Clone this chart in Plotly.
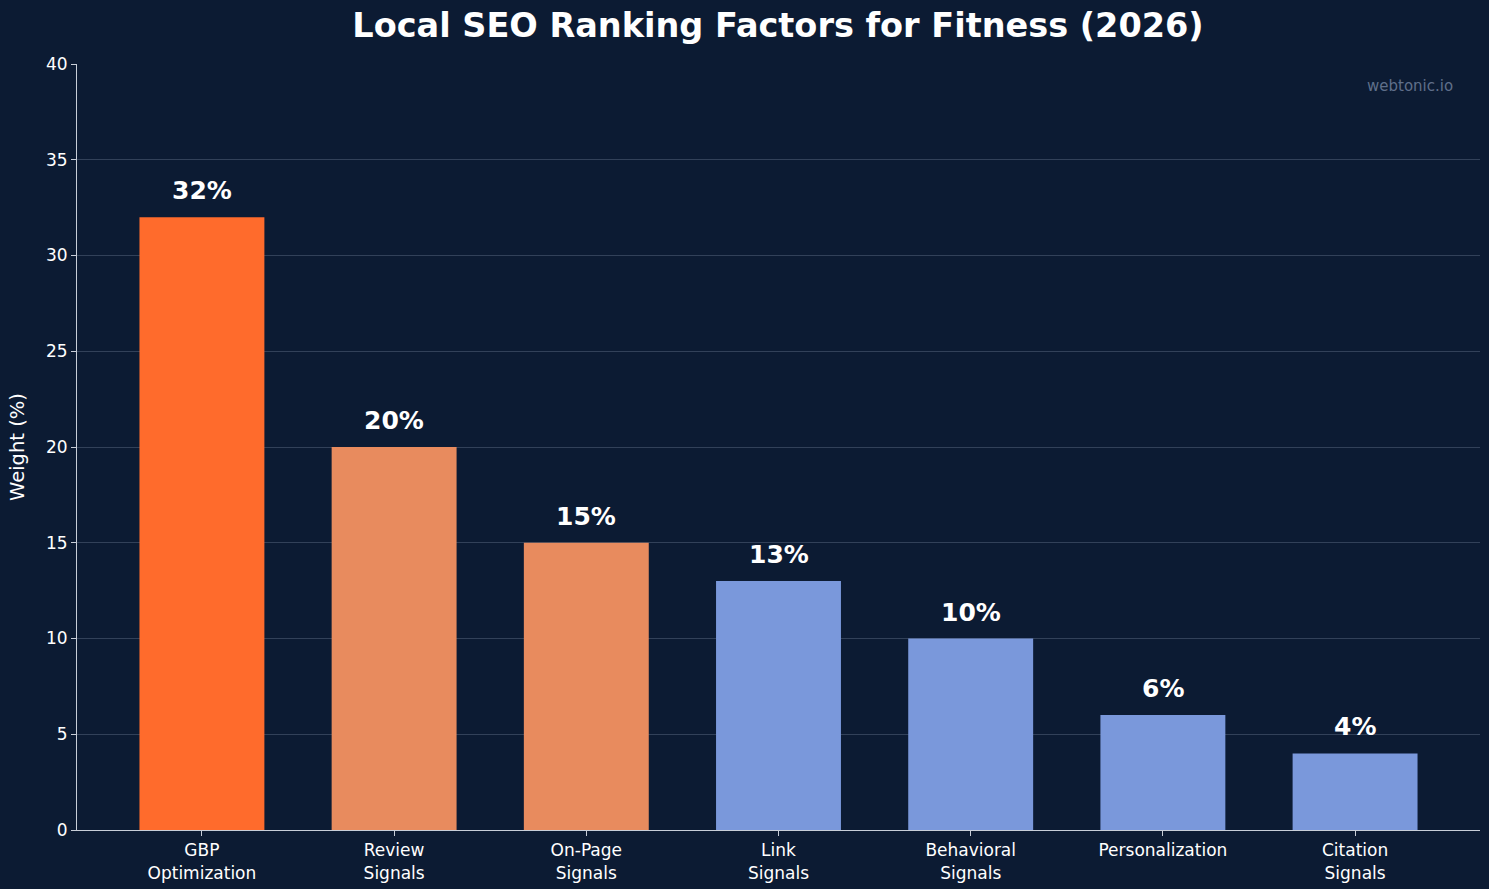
import plotly.graph_objects as go

categories = ["GBP<br>Optimization", "Review<br>Signals", "On-Page<br>Signals", "Link<br>Signals",
              "Behavioral<br>Signals", "Personalization", "Citation<br>Signals"]
values = [32, 20, 15, 13, 10, 6, 4]
colors = ["#FF6B2C", "#E88B5E", "#E88B5E", "#7A98DB", "#7A98DB", "#7A98DB", "#7A98DB"]
y_ticks = [0, 5, 10, 15, 20, 25, 30, 35, 40]

BG = "#0C1B33"
FONT = "DejaVu Sans"

x_idx = list(range(len(categories)))

fig = go.Figure()
fig.add_trace(go.Bar(x=x_idx, y=values, width=0.65, marker=dict(color=colors, line=dict(width=0)),
                     hoverinfo="skip"))

for i, v in enumerate(values):
    fig.add_annotation(x=i, y=v, text=f"<b>{v}%</b>", showarrow=False, yanchor="bottom",
                       yshift=10, font=dict(family=FONT, size=25, color="white"))

fig.add_annotation(xref="paper", yref="paper", x=0.982, y=0.971, xanchor="right", yanchor="middle",
                   text="webtonic.io", showarrow=False,
                   font=dict(family=FONT, size=15, color="#5F6F8A"))

fig.update_layout(
    width=1489, height=889,
    paper_bgcolor=BG, plot_bgcolor=BG,
    margin=dict(l=77, r=9, t=64, b=59),
    showlegend=False,
    title=dict(text="<b>Local SEO Ranking Factors for Fitness (2026)</b>", x=0.5225, xanchor="center",
               y=0.972, yanchor="middle", font=dict(family=FONT, size=33.5, color="white")),
    font=dict(family=FONT, color="white"),
    xaxis=dict(range=[-0.65, 6.65], tickmode="array", tickvals=x_idx, ticktext=categories,
               showgrid=False, zeroline=False, showline=True, linecolor="#C8CED8", linewidth=1,
               ticks="outside", ticklen=5, tickcolor="#C8CED8", automargin=False,
               tickfont=dict(family=FONT, size=17, color="white"), layer="above traces"),
    yaxis=dict(range=[0, 40], tickmode="array", tickvals=y_ticks, showgrid=True,
               gridcolor="rgba(140,155,180,0.3)", gridwidth=1, zeroline=False,
               showline=True, linecolor="#C8CED8", linewidth=1, ticks="outside", ticklen=5,
               tickcolor="#C8CED8", tickfont=dict(family=FONT, size=17, color="white"),
               automargin=False,
               title=dict(text="Weight (%)", font=dict(family=FONT, size=19.5, color="white"), standoff=16),
               layer="above traces"),
)

fig.write_html("out.html")
